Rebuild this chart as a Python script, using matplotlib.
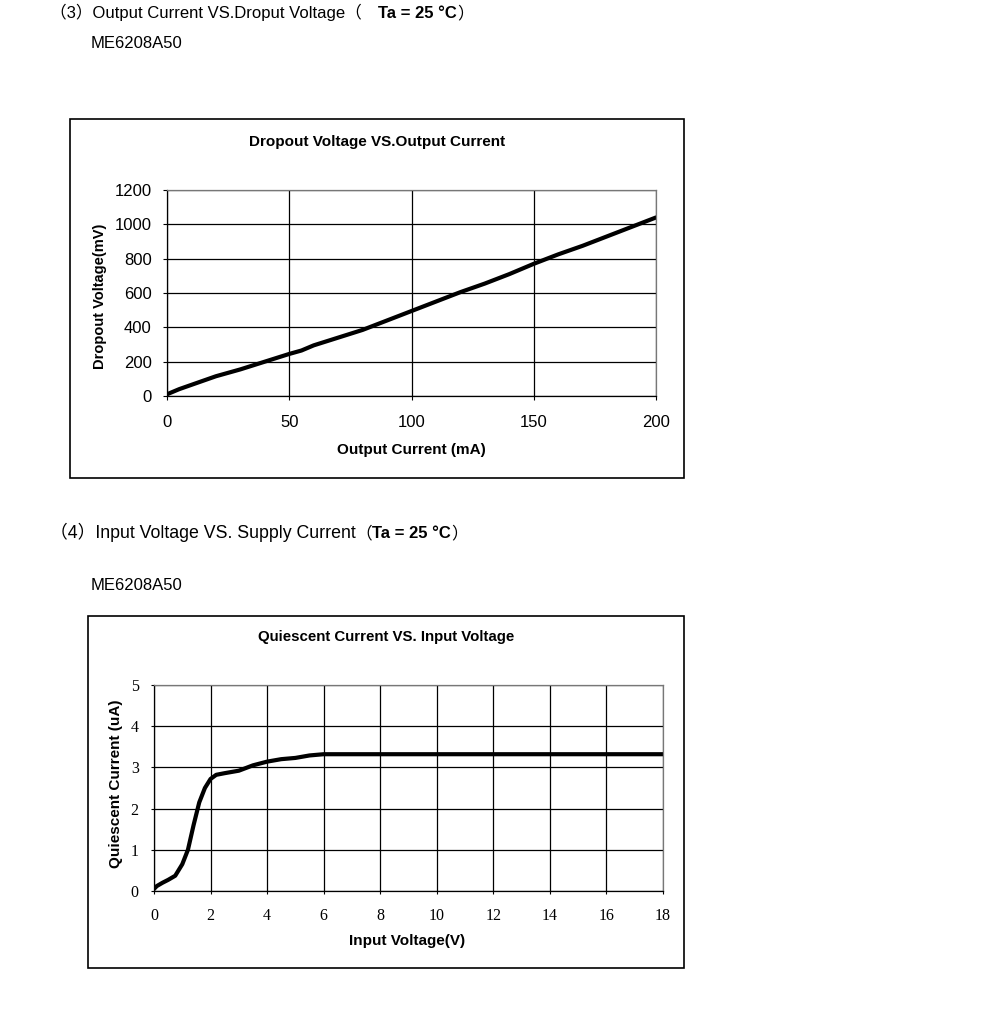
import matplotlib.pyplot as plt
from matplotlib.patches import Rectangle

# chart 1: dropout voltage vs output current
i_out = [0, 5, 10, 20, 30, 40, 50, 55, 60, 70, 80, 90, 100, 110, 120, 130, 140, 150, 160, 170, 180, 190, 200]
v_drop = [10, 40, 65, 115, 155, 200, 245, 265, 295, 340, 385, 440, 495, 550, 605, 655, 710, 770, 825, 875, 930, 985, 1040]

# chart 2: quiescent current vs input voltage
v_in = [0, 0.1, 0.3, 0.5, 0.75, 1.0, 1.2, 1.4, 1.6, 1.8, 2.0, 2.2, 2.5, 3.0, 3.5, 4.0, 4.5, 5.0, 5.5, 6.0, 18]
i_q = [0.05, 0.12, 0.2, 0.27, 0.37, 0.65, 1.0, 1.6, 2.15, 2.5, 2.72, 2.82, 2.86, 2.92, 3.05, 3.14, 3.2, 3.23, 3.29, 3.32, 3.32]

W, H = 991, 1016
SANS = ["Liberation Sans", "Noto Sans CJK SC", "DejaVu Sans"]
SERIF = ["Liberation Serif", "DejaVu Serif"]

fig = plt.figure(figsize=(W / 100, H / 100), dpi=100)
renderer = fig.canvas.get_renderer()


def px_axes(x0, y0, x1, y1):
    return fig.add_axes([x0 / W, 1 - y1 / H, (x1 - x0) / W, (y1 - y0) / H])


def px_text(x, y, s, va="center", **kw):
    return fig.text(x / W, 1 - y / H, s, va=va, **kw)


def chain(x, y, parts):
    # place text pieces one after another on a shared baseline
    for s, weight, size in parts:
        t = px_text(x, y, s, va="baseline", family=SANS, fontsize=size, weight=weight)
        x = t.get_window_extent(renderer).x1


def frame(x0, y0, x1, y1):
    fig.patches.append(Rectangle((x0 / W, 1 - y1 / H), (x1 - x0) / W, (y1 - y0) / H,
                                 transform=fig.transFigure, fill=False,
                                 edgecolor="black", linewidth=1.2))


def style_axes(ax, tick_family, tick_size, tick_len, xpad, ypad):
    for s in ax.spines.values():
        s.set_linewidth(0.9)
    for s in ("top", "right"):
        ax.spines[s].set_color("#777777")
    ax.grid(True, color="black", linewidth=0.9)
    ax.set_axisbelow(True)
    ax.tick_params(length=tick_len, width=0.8, labelsize=tick_size)
    ax.tick_params(axis="y", pad=ypad)
    ax.tick_params(axis="x", pad=xpad)
    for lab in ax.get_xticklabels() + ax.get_yticklabels():
        lab.set_family(tick_family)


# headings
chain(50, 18, [("（3）Output Current VS.Droput Voltage（\u3000", "normal", 12),
               ("Ta = 25 °C", "bold", 12), ("）", "normal", 12)])
px_text(91, 43, "ME6208A50", family=SANS, fontsize=12)

chain(50, 538, [("（4）Input Voltage VS. Supply Current", "normal", 12.8),
                ("（", "normal", 12), ("Ta = 25 °C", "bold", 12), ("）", "normal", 12)])
px_text(91, 585, "ME6208A50", family=SANS, fontsize=12)

# chart 1
frame(70, 119, 684, 478)
ax1 = px_axes(167, 190, 656, 396)
ax1.plot(i_out, v_drop, color="black", linewidth=3, solid_capstyle="round")
ax1.set_xlim(0, 200)
ax1.set_ylim(0, 1200)
ax1.set_xticks(range(0, 201, 50))
ax1.set_yticks(range(0, 1201, 200))
style_axes(ax1, SANS, 12, 3, xpad=10.5, ypad=8)
px_text(377, 142, "Dropout Voltage VS.Output Current", family=SANS, fontsize=11,
        weight="bold", ha="center")
px_text(411, 450, "Output Current (mA)", family=SANS, fontsize=11, weight="bold", ha="center")
fig.text(100 / W, 1 - 296 / H, "Dropout Voltage(mV)", family=SANS, fontsize=10.5,
         weight="bold", rotation=90, ha="center", va="center")

# chart 2
frame(88, 616, 684, 968)
ax2 = px_axes(154, 685, 663, 891)
ax2.plot(v_in, i_q, color="black", linewidth=3, solid_capstyle="round")
ax2.set_xlim(0, 18)
ax2.set_ylim(0, 5)
ax2.set_xticks(range(0, 19, 2))
ax2.set_yticks(range(0, 6))
style_axes(ax2, SERIF, 11.5, 2, xpad=10, ypad=9)
px_text(386, 637, "Quiescent Current VS. Input Voltage", family=SANS, fontsize=10.8,
        weight="bold", ha="center")
px_text(407, 941, "Input Voltage(V)", family=SANS, fontsize=11, weight="bold", ha="center")
fig.text(116 / W, 1 - 784 / H, "Quiescent Current (uA)", family=SANS, fontsize=11,
         weight="bold", rotation=90, ha="center", va="center")

fig.savefig("out.png", dpi=100)
